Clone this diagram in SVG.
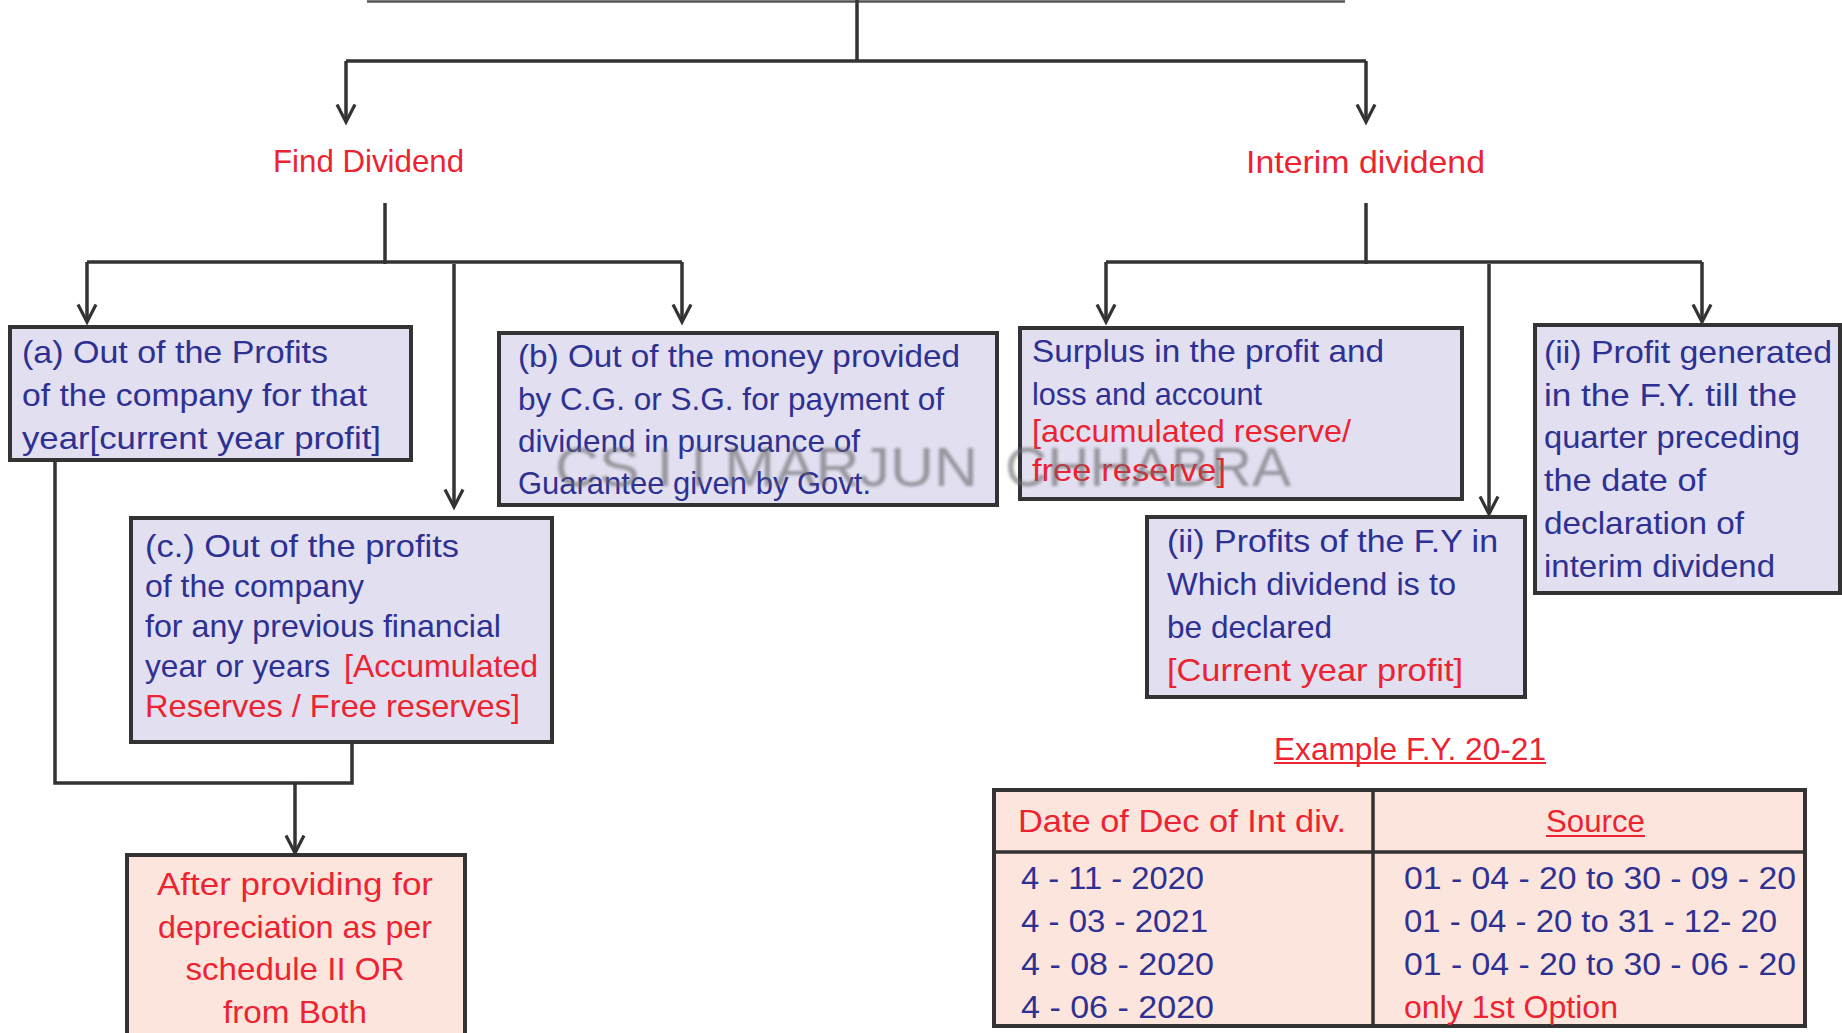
<svg xmlns="http://www.w3.org/2000/svg" width="1842" height="1033" viewBox="0 0 1842 1033">
  <style>
    text { font-family: "Liberation Sans", "Open Sans", sans-serif; font-size: 32px; }
    .blue { fill: #2e3192; }
    .red { fill: #ec2431; }
    .box { fill: #e1dff0; stroke: #333; stroke-width: 4; }
    .peach { fill: #fce5dc; stroke: #333; stroke-width: 4; }
    .wire { fill: none; stroke: #333; stroke-width: 3.5; }
    .arrow { fill: none; stroke: #333; stroke-width: 3.5; marker-end: url(#vhead); }
    .ul { stroke: #ec2431; stroke-width: 2; }
    .mark { fill: #666; opacity: 0.6; font-size: 56px; filter: url(#soft); }
  </style>
  <defs>
    <marker id="vhead" markerUnits="userSpaceOnUse" markerWidth="24" markerHeight="24" refX="19" refY="10" orient="auto" overflow="visible">
      <path d="M1.5,1 L19,10 L1.5,19" fill="none" stroke="#333" stroke-width="3.2" stroke-linejoin="miter"/>
    </marker>
    <filter id="soft" x="-5%" y="-20%" width="110%" height="140%">
      <feGaussianBlur stdDeviation="1.4"/>
    </filter>
  </defs>

  <rect width="1842" height="1033" fill="#fff"/>

  <!-- connectors -->
  <g id="connectors">
    <line x1="367" y1="1.5" x2="1345" y2="1.5" stroke="#555" stroke-width="2.5"/>
    <line class="wire" x1="857" y1="0" x2="857" y2="61"/>
    <line class="wire" x1="346" y1="61" x2="1366" y2="61" stroke-width="4"/>
    <line class="arrow" x1="346" y1="61" x2="346" y2="122"/>
    <line class="arrow" x1="1366" y1="61" x2="1366" y2="122"/>

    <!-- Find Dividend branches -->
    <line class="wire" x1="385" y1="203" x2="385" y2="264"/>
    <line class="wire" x1="87" y1="262" x2="682" y2="262" stroke-width="4"/>
    <line class="arrow" x1="87" y1="262" x2="87" y2="322"/>
    <line class="arrow" x1="682" y1="262" x2="682" y2="322"/>
    <line class="arrow" x1="454" y1="264" x2="454" y2="507"/>

    <!-- Interim dividend branches -->
    <line class="wire" x1="1366" y1="203" x2="1366" y2="264"/>
    <line class="wire" x1="1106" y1="262" x2="1702" y2="262" stroke-width="4"/>
    <line class="arrow" x1="1106" y1="262" x2="1106" y2="322"/>
    <line class="arrow" x1="1702" y1="262" x2="1702" y2="322"/>
    <line class="arrow" x1="1489" y1="264" x2="1489" y2="514"/>

    <!-- (a) and (c) join into depreciation note -->
    <polyline class="wire" points="55,460 55,783 352,783 352,742"/>
    <line class="arrow" x1="295" y1="783" x2="295" y2="853"/>
  </g>

  <!-- headings -->
  <g id="find-dividend">
    <text class="red" x="273" y="172" textLength="191" lengthAdjust="spacingAndGlyphs">Find Dividend</text>
  </g>
  <g id="interim-dividend">
    <text class="red" x="1246" y="173" textLength="239" lengthAdjust="spacingAndGlyphs">Interim dividend</text>
  </g>

  <!-- (a) current year profit -->
  <g id="node-a">
    <rect class="box" x="10" y="327" width="401" height="133"/>
    <text class="blue" x="22" y="363" textLength="306" lengthAdjust="spacingAndGlyphs">(a) Out of the Profits</text>
    <text class="blue" x="22" y="406" textLength="345" lengthAdjust="spacingAndGlyphs">of the company for that</text>
    <text class="blue" x="22" y="449" textLength="359" lengthAdjust="spacingAndGlyphs">year[current year profit]</text>
  </g>

  <!-- (b) money provided by government -->
  <g id="node-b">
    <rect class="box" x="499" y="333" width="498" height="172"/>
    <text class="blue" x="518" y="367" textLength="442" lengthAdjust="spacingAndGlyphs">(b)  Out of the money provided</text>
    <text class="blue" x="518" y="410" textLength="426" lengthAdjust="spacingAndGlyphs">by C.G. or S.G. for payment of</text>
    <text class="blue" x="518" y="452" textLength="342" lengthAdjust="spacingAndGlyphs">dividend in pursuance of</text>
    <text class="blue" x="518" y="494" textLength="353" lengthAdjust="spacingAndGlyphs">Guarantee given by Govt.</text>
  </g>

  <!-- (c) previous years' profits -->
  <g id="node-c">
    <rect class="box" x="131" y="518" width="421" height="224"/>
    <text class="blue" x="145" y="557" textLength="314" lengthAdjust="spacingAndGlyphs">(c.) Out of the profits</text>
    <text class="blue" x="145" y="597" textLength="219" lengthAdjust="spacingAndGlyphs">of the company</text>
    <text class="blue" x="145" y="637" textLength="356" lengthAdjust="spacingAndGlyphs">for any previous financial</text>
    <text class="blue" x="145" y="677" textLength="185" lengthAdjust="spacingAndGlyphs">year or years</text>
    <text class="red" x="344" y="677" textLength="194" lengthAdjust="spacingAndGlyphs">[Accumulated</text>
    <text class="red" x="145" y="717" textLength="375" lengthAdjust="spacingAndGlyphs">Reserves / Free reserves]</text>
  </g>

  <!-- depreciation note -->
  <g id="node-depreciation">
    <rect class="peach" x="127" y="855" width="338" height="182"/>
    <text class="red" x="295" y="895" text-anchor="middle" textLength="276" lengthAdjust="spacingAndGlyphs">After providing for</text>
    <text class="red" x="295" y="938" text-anchor="middle" textLength="274" lengthAdjust="spacingAndGlyphs">depreciation as per</text>
    <text class="red" x="295" y="980" text-anchor="middle" textLength="219" lengthAdjust="spacingAndGlyphs">schedule II OR</text>
    <text class="red" x="295" y="1023" text-anchor="middle" textLength="144" lengthAdjust="spacingAndGlyphs">from Both</text>
  </g>

  <!-- surplus in P&L -->
  <g id="node-surplus">
    <rect class="box" x="1020" y="328" width="442" height="171"/>
    <text class="blue" x="1032" y="362" textLength="352" lengthAdjust="spacingAndGlyphs">Surplus in the profit and</text>
    <text class="blue" x="1032" y="405" textLength="230" lengthAdjust="spacingAndGlyphs">loss and account</text>
    <text class="red" x="1032" y="442" textLength="319" lengthAdjust="spacingAndGlyphs">[accumulated reserve/</text>
    <text class="red" x="1032" y="481" textLength="194" lengthAdjust="spacingAndGlyphs">free reserve]</text>
  </g>

  <!-- (ii) profits of the F.Y. -->
  <g id="node-fy-profit">
    <rect class="box" x="1147" y="517" width="378" height="180"/>
    <text class="blue" x="1167" y="552" textLength="331" lengthAdjust="spacingAndGlyphs">(ii) Profits of the F.Y in</text>
    <text class="blue" x="1167" y="595" textLength="289" lengthAdjust="spacingAndGlyphs">Which dividend is to</text>
    <text class="blue" x="1167" y="638" textLength="165" lengthAdjust="spacingAndGlyphs">be declared</text>
    <text class="red" x="1167" y="681" textLength="296" lengthAdjust="spacingAndGlyphs">[Current year profit]</text>
  </g>

  <!-- (ii) profit generated till preceding quarter -->
  <g id="node-quarter-profit">
    <rect class="box" x="1535" y="325" width="305" height="268"/>
    <text class="blue" x="1544" y="363" textLength="288" lengthAdjust="spacingAndGlyphs">(ii) Profit generated</text>
    <text class="blue" x="1544" y="406" textLength="253" lengthAdjust="spacingAndGlyphs">in the F.Y. till the</text>
    <text class="blue" x="1544" y="448" textLength="256" lengthAdjust="spacingAndGlyphs">quarter preceding</text>
    <text class="blue" x="1544" y="491" textLength="162" lengthAdjust="spacingAndGlyphs">the date of</text>
    <text class="blue" x="1544" y="534" textLength="200" lengthAdjust="spacingAndGlyphs">declaration of</text>
    <text class="blue" x="1544" y="577" textLength="231" lengthAdjust="spacingAndGlyphs">interim dividend</text>
  </g>

  <!-- example table -->
  <g id="example">
    <text class="red" x="1274" y="760" textLength="272" lengthAdjust="spacingAndGlyphs">Example F.Y. 20-21</text>
    <line class="ul" x1="1274" y1="763" x2="1546" y2="763"/>
    <rect class="peach" x="994" y="790" width="811" height="236"/>
    <line class="wire" x1="994" y1="852" x2="1805" y2="852" stroke-width="4"/>
    <line class="wire" x1="1373" y1="790" x2="1373" y2="1026" stroke-width="4"/>
    <text class="red" x="1018" y="832" textLength="328" lengthAdjust="spacingAndGlyphs">Date of Dec of Int div.</text>
    <text class="red" x="1546" y="832" textLength="99" lengthAdjust="spacingAndGlyphs">Source</text>
    <line class="ul" x1="1546" y1="836" x2="1645" y2="836"/>
    <text class="blue" x="1021" y="889" textLength="183" lengthAdjust="spacingAndGlyphs">4 - 11 - 2020</text>
    <text class="blue" x="1021" y="932" textLength="187" lengthAdjust="spacingAndGlyphs">4 - 03 - 2021</text>
    <text class="blue" x="1021" y="975" textLength="193" lengthAdjust="spacingAndGlyphs">4 - 08 - 2020</text>
    <text class="blue" x="1021" y="1018" textLength="193" lengthAdjust="spacingAndGlyphs">4 - 06 - 2020</text>
    <text class="blue" x="1404" y="889" textLength="392" lengthAdjust="spacingAndGlyphs">01 - 04 - 20 to 30 - 09 - 20</text>
    <text class="blue" x="1404" y="932" textLength="373" lengthAdjust="spacingAndGlyphs">01 - 04 - 20 to 31 - 12- 20</text>
    <text class="blue" x="1404" y="975" textLength="392" lengthAdjust="spacingAndGlyphs">01 - 04 - 20 to 30 - 06 - 20</text>
    <text class="red" x="1404" y="1018" textLength="214" lengthAdjust="spacingAndGlyphs">only 1st Option</text>
  </g>

  <!-- faint author watermark -->
  <g id="watermark">
    <text class="mark" x="555" y="486" textLength="423" lengthAdjust="spacingAndGlyphs">CS I I MARJUN</text>
    <text class="mark" x="1005" y="486" textLength="286" lengthAdjust="spacingAndGlyphs">CHHABRA</text>
  </g>
</svg>
